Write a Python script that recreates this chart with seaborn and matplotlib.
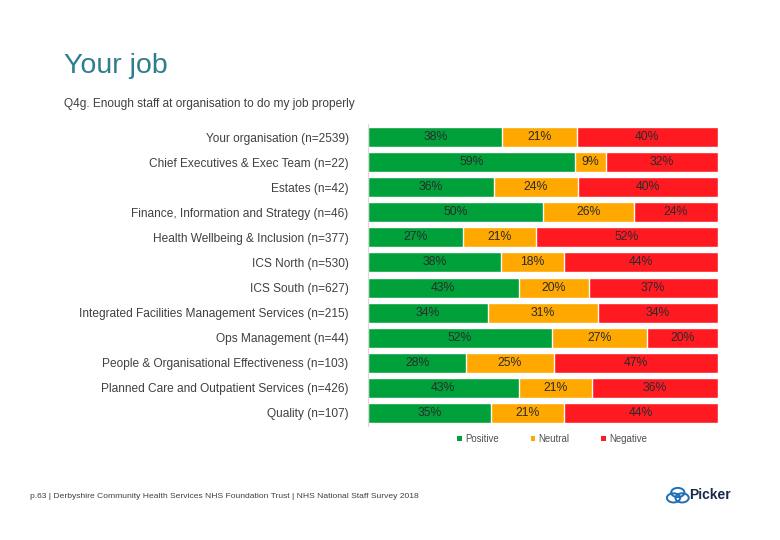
import matplotlib
matplotlib.use("Agg")
import matplotlib.pyplot as plt
from matplotlib.patches import Patch, Circle
import numpy as np
import pandas as pd
import seaborn as sns

# Data
groups = [
    "Your organisation (n=2539)",
    "Chief Executives & Exec Team (n=22)",
    "Estates (n=42)",
    "Finance, Information and Strategy (n=46)",
    "Health Wellbeing & Inclusion (n=377)",
    "ICS North (n=530)",
    "ICS South (n=627)",
    "Integrated Facilities Management Services (n=215)",
    "Ops Management (n=44)",
    "People & Organisational Effectiveness (n=103)",
    "Planned Care and Outpatient Services (n=426)",
    "Quality (n=107)",
]
positive = [38, 59, 36, 50, 27, 38, 43, 34, 52, 28, 43, 35]
neutral = [21, 9, 24, 26, 21, 18, 20, 31, 27, 25, 21, 21]
negative = [40, 32, 40, 24, 52, 44, 37, 34, 20, 47, 36, 44]

series_names = ["Positive", "Neutral", "Negative"]
colors = {"Positive": "#00A13A", "Neutral": "#FFA800", "Negative": "#FF1A22"}

df = pd.DataFrame({"group": groups, "Positive": positive,
                   "Neutral": neutral, "Negative": negative})
# rounded percentages don't always add to 100, so scale each row to full width
total = df[series_names].sum(axis=1)
df["cum_pos"] = df["Positive"] / total * 100
df["cum_neu"] = (df["Positive"] + df["Neutral"]) / total * 100
df["cum_neg"] = 100.0

sns.set_theme(style="white")
plt.rcParams["font.family"] = ["Liberation Sans", "DejaVu Sans"]

fig = plt.figure(figsize=(7.8, 5.4), dpi=100)
ax = fig.add_axes([0.472, 0.212, 0.4485, 0.5575])

# stacked bars drawn back to front with cumulative totals
for col, name in [("cum_neg", "Negative"), ("cum_neu", "Neutral"), ("cum_pos", "Positive")]:
    sns.barplot(data=df, x=col, y="group", orient="h", color=colors[name],
                saturation=1, width=0.8, edgecolor="white", linewidth=1.0, ax=ax)

# value labels centred in each segment
for i, row in df.iterrows():
    starts = [0, row["cum_pos"], row["cum_neu"]]
    ends = [row["cum_pos"], row["cum_neu"], row["cum_neg"]]
    vals = [row["Positive"], row["Neutral"], row["Negative"]]
    for s, e, v in zip(starts, ends, vals):
        ax.text((s + e) / 2, i, f"{v}%", ha="center", va="center",
                fontsize=8.8, color="#2B2B2B")

ax.set_xlim(0, 100)
ax.set_ylim(len(groups) - 0.5, -0.5)
ax.set_xlabel("")
ax.set_ylabel("")
ax.set_xticks([])
ax.tick_params(axis="y", length=0, pad=14, labelsize=8.6, labelcolor="#404040")
for side in ["top", "right", "bottom"]:
    ax.spines[side].set_visible(False)
ax.spines["left"].set_color("#D9D9D9")
ax.spines["left"].set_linewidth(0.8)

# legend
handles = [Patch(facecolor=colors[n], edgecolor="none", label=n) for n in series_names]
fig.legend(handles=handles, loc="center", bbox_to_anchor=(0.708, 0.187), ncol=3,
           frameon=False, fontsize=6.9, handlelength=0.5, handleheight=0.5,
           handletextpad=0.35, columnspacing=3.3, labelcolor="#505050")

# titles
fig.text(0.082, 0.878, "Your job", fontsize=20.5, color="#2E7E8F", va="center")
fig.text(0.082, 0.807, "Q4g. Enough staff at organisation to do my job properly",
         fontsize=8.6, color="#404040", va="center")

# footer
fig.text(0.038, 0.081,
         "p.63 | Derbyshire Community Health Services NHS Foundation Trust | NHS National Staff Survey 2018",
         fontsize=6.1, color="#404040", va="center")

# Picker logo
for cx, cy in [(0.8635, 0.078), (0.8745, 0.078), (0.869, 0.088)]:
    fig.patches.append(Circle((cx, cy), 0.0085, transform=fig.transFigure,
                              fill=False, edgecolor="#1F6FB5", linewidth=1.4))
fig.text(0.884, 0.083, "Picker", fontsize=10, fontweight="bold", color="#1B2A4A", va="center")

fig.savefig("out.png", dpi=100)
